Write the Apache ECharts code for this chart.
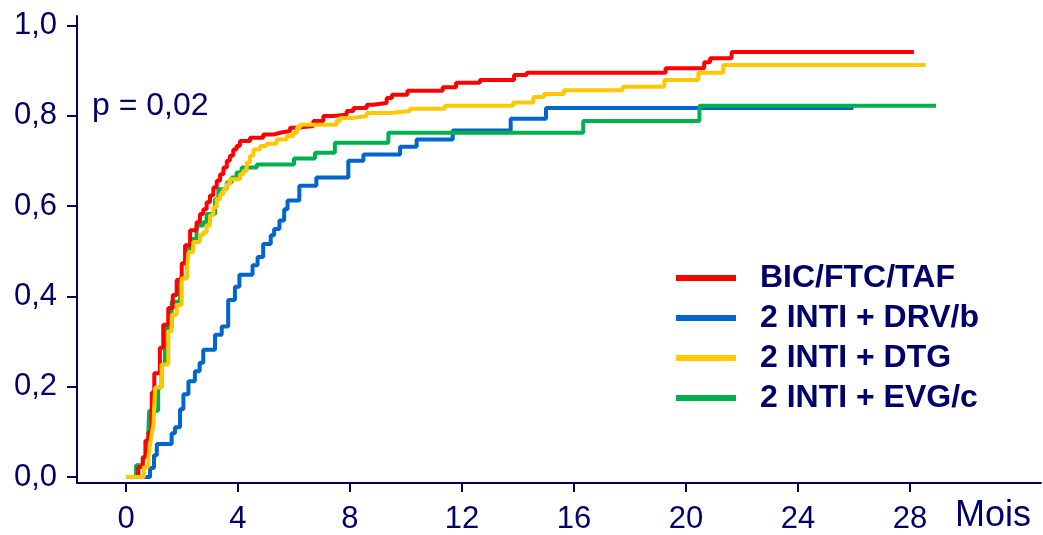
<!DOCTYPE html>
<html><head><meta charset="utf-8">
<script src="https://cdn.jsdelivr.net/npm/echarts@6/dist/echarts.min.js"></script>
<style>html,body{margin:0;padding:0;background:#fff}#c{width:1043px;height:535px}</style>
</head><body><div id="c"></div>
<script>
// Tick labels
const xTickLabels = [0, 4, 8, 12, 16, 20, 24, 28];
const yTickLabels = [0, 0.2, 0.4, 0.6, 0.8, 1.0];
const seriesNames = ['BIC/FTC/TAF', '2 INTI + DRV/b', '2 INTI + DTG', '2 INTI + EVG/c'];

// BIC/FTC/TAF (red)
const redTime = [0, 0.44, 0.6, 0.7, 0.8, 0.92, 1.01, 1.21, 1.33, 1.51, 1.67, 1.81, 1.99, 2.11, 2.29, 2.52, 2.64, 2.76, 2.88, 3.0, 3.12, 3.24, 3.36, 3.48, 3.6, 3.71, 3.83, 3.95, 4.07, 4.43, 4.9, 5.26, 5.5, 5.86, 6.1, 6.69, 7.05, 7.4, 7.88, 8.12, 8.6, 8.83, 9.31, 9.5, 10.05, 11.31, 11.79, 12.64, 13.86, 14.31, 19.27, 20.65, 20.86, 21.63, 28.14];
const redValue = [0, 0.022, 0.044, 0.081, 0.099, 0.187, 0.23, 0.286, 0.337, 0.374, 0.403, 0.436, 0.473, 0.513, 0.546, 0.564, 0.582, 0.593, 0.608, 0.623, 0.641, 0.656, 0.67, 0.685, 0.7, 0.711, 0.725, 0.733, 0.744, 0.751, 0.758, 0.762, 0.766, 0.773, 0.777, 0.788, 0.799, 0.802, 0.81, 0.817, 0.824, 0.828, 0.839, 0.846, 0.855, 0.863, 0.873, 0.879, 0.89, 0.895, 0.905, 0.918, 0.927, 0.941, 0.941];

// 2 INTI + DRV/b (blue)
const blueTime = [0, 0.86, 1.0, 1.1, 1.63, 1.75, 1.93, 2.05, 2.23, 2.46, 2.63, 2.76, 3.18, 3.42, 3.65, 3.89, 4.05, 4.52, 4.7, 4.9, 5.17, 5.29, 5.48, 5.65, 5.77, 6.19, 6.8, 7.94, 8.48, 9.79, 10.38, 11.67, 13.74, 15.0, 25.98];
const blueValue = [0, 0.02, 0.048, 0.073, 0.097, 0.11, 0.15, 0.183, 0.212, 0.234, 0.253, 0.282, 0.315, 0.333, 0.392, 0.421, 0.448, 0.469, 0.487, 0.516, 0.535, 0.549, 0.568, 0.593, 0.612, 0.645, 0.663, 0.70, 0.714, 0.731, 0.747, 0.767, 0.793, 0.817, 0.817];

// 2 INTI + DTG (yellow)
const yellowTime = [0, 0.64, 0.8, 0.86, 0.92, 0.98, 1.04, 1.27, 1.51, 1.63, 1.81, 1.99, 2.17, 2.23, 2.4, 2.64, 2.76, 2.88, 3.0, 3.12, 3.24, 3.36, 3.48, 3.6, 3.71, 4.07, 4.19, 4.31, 4.43, 4.55, 4.79, 5.02, 5.38, 5.74, 5.98, 6.1, 6.21, 7.52, 7.64, 8.12, 8.6, 9.43, 10.14, 11.39, 13.83, 14.55, 14.93, 15.64, 17.74, 19.23, 20.44, 21.33, 28.56];
const yellowValue = [0, 0.022, 0.044, 0.073, 0.095, 0.117, 0.198, 0.249, 0.322, 0.359, 0.381, 0.44, 0.447, 0.498, 0.52, 0.535, 0.542, 0.557, 0.579, 0.597, 0.615, 0.626, 0.637, 0.648, 0.659, 0.67, 0.678, 0.696, 0.711, 0.725, 0.733, 0.738, 0.747, 0.755, 0.762, 0.773, 0.78, 0.788, 0.795, 0.799, 0.806, 0.81, 0.815, 0.822, 0.829, 0.841, 0.848, 0.856, 0.864, 0.879, 0.895, 0.912, 0.912];

// 2 INTI + EVG/c (green)
const greenTime = [0, 0.36, 0.6, 0.7, 0.8, 0.83, 1.15, 1.27, 1.39, 1.63, 1.93, 2.17, 2.35, 2.52, 2.76, 2.88, 3.18, 3.3, 3.6, 3.77, 3.95, 4.13, 4.67, 6.0, 6.75, 7.46, 9.37, 16.33, 20.48, 28.93];
const greenValue = [0, 0.026, 0.044, 0.08, 0.103, 0.147, 0.198, 0.25, 0.33, 0.388, 0.44, 0.505, 0.527, 0.557, 0.564, 0.582, 0.615, 0.637, 0.652, 0.663, 0.674, 0.685, 0.692, 0.705, 0.718, 0.74, 0.762, 0.788, 0.822, 0.822];

function pairs(t, v) { const n = Math.min(t.length, v.length); const out = []; for (let i = 0; i < n; i++) out.push([t[i], v[i]]); return out; }

const NAVY = '#00006a';
const FONT = "'Liberation Sans', Arial, sans-serif";
const chart = echarts.init(document.getElementById('c'), null, { renderer: 'canvas' });

function kmSeries(name, color, t, v) {
  return { name: name, type: 'line', step: 'end', showSymbol: false, symbol: 'none',
    data: pairs(t, v), color: color, lineStyle: { color: color, width: 4 }, itemStyle: { color: color } };
}

chart.setOption({
  animation: false,
  backgroundColor: '#ffffff',
  grid: { left: 77, right: 2, top: 16, bottom: 49, containLabel: false },
  xAxis: {
    type: 'value', min: -1.75, max: 32.68,
    axisLine: { show: true, onZero: false, lineStyle: { color: NAVY, width: 2 } },
    axisTick: { show: true, customValues: xTickLabels, length: 9, lineStyle: { color: NAVY, width: 2 } },
    axisLabel: { customValues: xTickLabels, margin: 21, fontSize: 31, color: NAVY, fontFamily: FONT },
    splitLine: { show: false }
  },
  yAxis: {
    type: 'value', min: -0.0132, max: 1.0205,
    axisLine: { show: true, onZero: false, lineStyle: { color: NAVY, width: 2 } },
    axisTick: { show: true, customValues: yTickLabels, length: 10, lineStyle: { color: NAVY, width: 2 } },
    axisLabel: { customValues: yTickLabels, margin: 20, fontSize: 31, color: NAVY, fontFamily: FONT,
      formatter: function (v) { return Number(v).toFixed(1).replace('.', ','); } },
    splitLine: { show: false }
  },
  legend: {
    orient: 'vertical', left: 671, top: 257, itemWidth: 60, itemHeight: 6, itemGap: 8, icon: 'rect',
    data: seriesNames,
    textStyle: { fontSize: 32, fontWeight: 'bold', color: NAVY, fontFamily: FONT, lineHeight: 31, padding: [0, 0, 0, 19] }
  },
  graphic: [
    { type: 'text', x: 92, y: 106, style: { text: 'p = 0,02', font: "32px 'Liberation Sans', Arial, sans-serif", fill: NAVY, verticalAlign: 'middle' } },
    { type: 'text', x: 955, y: 516, style: { text: 'Mois', font: "36px 'Liberation Sans', Arial, sans-serif", fill: NAVY, verticalAlign: 'middle' } }
  ],
  series: [
    kmSeries(seriesNames[1], '#0066cc', blueTime, blueValue),
    kmSeries(seriesNames[3], '#00b050', greenTime, greenValue),
    kmSeries(seriesNames[0], '#ff0000', redTime, redValue),
    kmSeries(seriesNames[2], '#ffc800', yellowTime, yellowValue)
  ]
});
</script></body></html>
